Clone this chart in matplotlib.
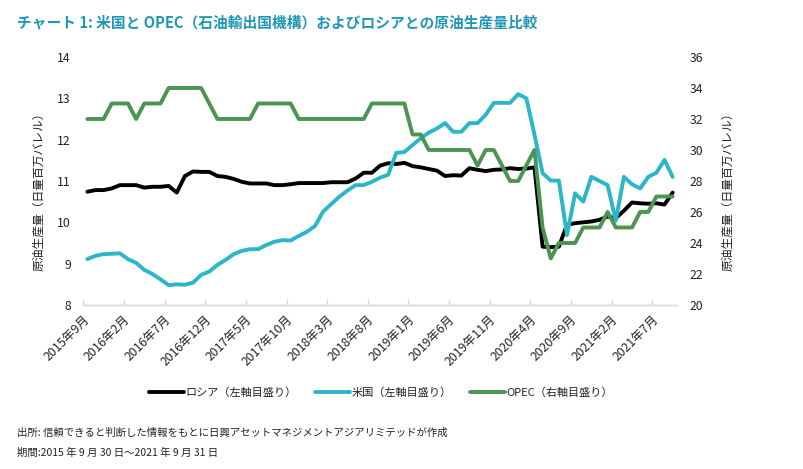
import matplotlib
matplotlib.use("Agg")
import matplotlib.pyplot as plt
from matplotlib.ticker import FixedLocator

plt.rcParams['font.family'] = ['Noto Sans CJK JP', 'DejaVu Sans']

# Monthly data, 2015-09 .. 2021-09 (73 months)
russia = [10.74, 10.78, 10.78, 10.82, 10.90, 10.90, 10.90, 10.84, 10.86, 10.86,
          10.88, 10.72, 11.12, 11.23, 11.22, 11.22, 11.12, 11.10, 11.05, 10.98,
          10.94, 10.94, 10.94, 10.90, 10.90, 10.92, 10.95, 10.95, 10.95, 10.95,
          10.97, 10.97, 10.97, 11.06, 11.20, 11.20, 11.37, 11.43, 11.41, 11.44,
          11.36, 11.33, 11.29, 11.25, 11.12, 11.14, 11.13, 11.31, 11.27, 11.24,
          11.27, 11.28, 11.31, 11.29, 11.30, 11.33, 9.41, 9.40, 9.41, 9.94,
          9.98, 10.00, 10.02, 10.06, 10.14, 10.10, 10.28, 10.48, 10.46, 10.45,
          10.46, 10.43, 10.72]

usa = [9.11, 9.19, 9.23, 9.24, 9.25, 9.11, 9.02, 8.85, 8.75, 8.62,
       8.48, 8.50, 8.49, 8.54, 8.73, 8.81, 8.97, 9.09, 9.23, 9.31,
       9.35, 9.35, 9.45, 9.53, 9.57, 9.56, 9.67, 9.77, 9.91, 10.26,
       10.44, 10.62, 10.77, 10.90, 10.90, 10.98, 11.08, 11.15, 11.68, 11.70,
       11.87, 12.03, 12.17, 12.27, 12.40, 12.19, 12.19, 12.40, 12.40, 12.60,
       12.89, 12.89, 12.89, 13.10, 13.00, 12.12, 11.19, 11.01, 11.01, 9.69,
       10.70, 10.50, 11.10, 11.00, 10.90, 10.04, 11.10, 10.92, 10.82, 11.10,
       11.20, 11.51, 11.10]

opec = [32, 32, 32, 33, 33, 33, 32, 33, 33, 33,
        34, 34, 34, 34, 34, 33, 32, 32, 32, 32,
        32, 33, 33, 33, 33, 33, 32, 32, 32, 32,
        32, 32, 32, 32, 32, 33, 33, 33, 33, 33,
        31, 31, 30, 30, 30, 30, 30, 30, 29, 30,
        30, 29, 28, 28, 29, 30, 25, 23, 24, 24,
        24, 25, 25, 25, 26, 25, 25, 25, 26, 26,
        27, 27, 27]

tick_labels = ["2015年9月", "2016年2月", "2016年7月", "2016年12月", "2017年5月",
               "2017年10月", "2018年3月", "2018年8月", "2019年1月", "2019年6月",
               "2019年11月", "2020年4月", "2020年9月", "2021年2月", "2021年7月"]

left_ticks = [8, 9, 10, 11, 12, 13, 14]
right_ticks = [20, 22, 24, 26, 28, 30, 32, 34, 36]

series_names = ["ロシア（左軸目盛り）", "米国（左軸目盛り）", "OPEC（右軸目盛り）"]

C_BLACK = "#000000"
C_TEAL = "#2bb6c9"
C_GREEN = "#4b9552"
C_TITLE = "#1f97b4"
TXT = "#222222"

fig = plt.figure(figsize=(8.04, 4.69), dpi=100)
ax = fig.add_axes([0.1036, 0.3497, 0.7381, 0.5288])
ax2 = ax.twinx()

x = list(range(len(russia)))
lw = 2.8
l1, = ax.plot(x, russia, color=C_BLACK, lw=lw, solid_joinstyle='round', solid_capstyle='round')
l2, = ax.plot(x, usa, color=C_TEAL, lw=lw, solid_joinstyle='round', solid_capstyle='round')
l3, = ax2.plot(x, opec, color=C_GREEN, lw=lw, solid_joinstyle='round', solid_capstyle='round')

n = len(russia)
ax.set_xlim(-0.5, n - 0.5)
ax.set_ylim(left_ticks[0], left_ticks[-1])
ax2.set_ylim(right_ticks[0], right_ticks[-1])

# x ticks: labels at category centres, marks at boundaries
label_pos = list(range(0, n, 5))[:len(tick_labels)]
ax.set_xticks(label_pos)
ax.set_xticklabels(tick_labels, rotation=45, ha='right', va='center',
                   rotation_mode='anchor', fontsize=8.8, color=TXT)
ax.tick_params(axis='x', which='major', length=0, pad=9)
ax.xaxis.set_minor_locator(FixedLocator([p - 0.5 for p in label_pos]))
ax.tick_params(axis='x', which='minor', length=4, direction='in', color='#d9d9d9', width=1)

ax.set_yticks(left_ticks)
ax.set_yticklabels([str(t) for t in left_ticks], fontsize=8.8, color=TXT)
ax.tick_params(axis='y', length=0, pad=9)
ax2.set_yticks(right_ticks)
ax2.set_yticklabels([str(t) for t in right_ticks], fontsize=8.8, color=TXT)
ax2.tick_params(axis='y', length=0, pad=9)

for a in (ax, ax2):
    for s in ('left', 'right', 'top'):
        a.spines[s].set_visible(False)
    a.spines['bottom'].set_color('#d9d9d9')
    a.spines['bottom'].set_linewidth(1)

ax.set_ylabel("原油生産量（日量百万バレル）", fontsize=8.5, color=TXT)
ax.yaxis.set_label_coords(-0.0645, 0.47)
ax2.set_ylabel("原油生産量（日量百万バレル）", fontsize=8.5, color=TXT, rotation=90)
ax2.yaxis.set_label_coords(1.0758, 0.47)

fig.legend([l1, l2, l3], series_names, loc='center', bbox_to_anchor=(0.474, 0.162),
           ncol=3, frameon=False, fontsize=8, handlelength=3.1, handletextpad=0.15,
           columnspacing=1.7, labelcolor=TXT)

fig.text(0.0208, 0.953, "チャート 1: 米国と OPEC（石油輸出国機構）およびロシアとの原油生産量比較",
         fontsize=10.6, fontweight='bold', color=C_TITLE, va='center', ha='left')
fig.text(0.0208, 0.0768, "出所: 信頼できると判断した情報をもとに日興アセットマネジメントアジアリミテッドが作成",
         fontsize=7.5, color=TXT, va='center', ha='left')
fig.text(0.0208, 0.0341, "期間:2015 年 9 月 30 日～2021 年 9 月 31 日",
         fontsize=7.5, color=TXT, va='center', ha='left')

fig.savefig("out.png", dpi=100)
